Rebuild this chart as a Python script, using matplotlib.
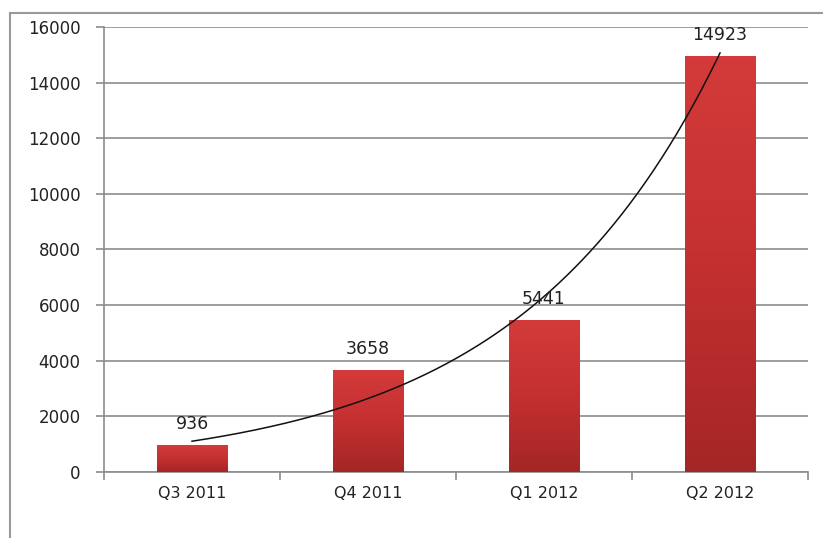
import numpy as np
import matplotlib
matplotlib.use("Agg")
import matplotlib.pyplot as plt
from matplotlib.colors import LinearSegmentedColormap
from matplotlib.patches import Rectangle

quarters = ["Q3 2011", "Q4 2011", "Q1 2012", "Q2 2012"]
values = [936, 3658, 5441, 14923]
y_ticks = list(range(0, 16001, 2000))

fig = plt.figure(figsize=(8.23, 5.38), dpi=100)
ax = fig.add_axes([0.1264, 0.1227, 0.8554, 0.8271])

# outer chart border
fig.patches.append(Rectangle((10 / 823, -0.05), 1.2, 1 - 13 / 538 + 0.05,
                             transform=fig.transFigure, fill=False,
                             edgecolor="#9a9a9a", linewidth=1.5))

x = np.arange(len(quarters))
bars = ax.bar(x, values, width=0.4, color="none", zorder=3)

# red gradient fill for each bar
grad = LinearSegmentedColormap.from_list("redgrad", ["#a52626", "#c43030", "#d43a3a"])
for b in bars:
    x0, y0 = b.get_x(), b.get_y()
    w, h = b.get_width(), b.get_height()
    img = np.linspace(0, 1, 100).reshape(-1, 1)
    ax.imshow(img, extent=[x0, x0 + w, y0, y0 + h], origin="lower",
              cmap=grad, aspect="auto", zorder=3)

for xi, v in zip(x, values):
    ax.annotate(str(v), (xi, v), xytext=(0, 9), textcoords="offset points",
                ha="center", va="bottom", fontsize=12.5, color="#222222", zorder=5)

# exponential trendline
b_fit, a_fit = np.polyfit(x + 1, np.log(values), 1)
xs = np.linspace(1, len(values), 200)
ax.plot(xs - 1, np.exp(a_fit + b_fit * xs), color="#111111", linewidth=1.1, zorder=4)

ax.set_xlim(-0.5, len(quarters) - 0.5)
ax.set_ylim(0, 16000)
ax.set_yticks(y_ticks)
ax.set_xticks(x)
ax.set_xticklabels(quarters)
ax.set_xticks(np.arange(-0.5, len(quarters)), minor=True)
ax.tick_params(axis="x", which="major", length=0, pad=10, labelsize=11.5, labelcolor="#222222")
ax.tick_params(axis="x", which="minor", length=6, width=1.2, color="#8c8c8c", direction="out")
ax.tick_params(axis="y", length=6, width=1.2, color="#8c8c8c", labelsize=12,
               labelcolor="#222222", pad=11)
ax.yaxis.grid(True, color="#8c8c8c", linewidth=1.2, zorder=0)
ax.set_axisbelow(True)
for s in ["top", "right"]:
    ax.spines[s].set_visible(False)
ax.spines["left"].set_color("#8c8c8c")
ax.spines["bottom"].set_color("#8c8c8c")
ax.spines["left"].set_linewidth(1.2)
ax.spines["bottom"].set_linewidth(1.2)

fig.savefig("out.png", dpi=100)
